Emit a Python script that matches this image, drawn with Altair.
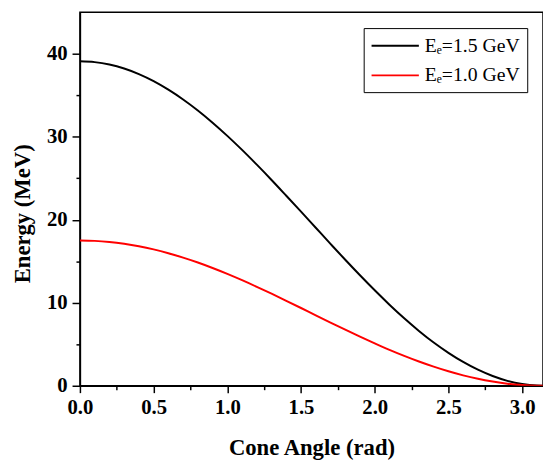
import altair as alt
import pandas as pd

# Cone angle (rad) sampled along the curves
theta = [0.0, 0.1, 0.2, 0.3, 0.4, 0.5, 0.6, 0.7, 0.8, 0.9, 1.0, 1.1, 1.2, 1.3, 1.4, 1.5,
         1.6, 1.7, 1.8, 1.9, 2.0, 2.1, 2.2, 2.3, 2.4, 2.5, 2.6, 2.7, 2.8, 2.9, 3.0, 3.1, 3.14]

# Energy (MeV) for Ee = 1.5 GeV
energy_15 = [39.10, 39.00, 38.71, 38.23, 37.56, 36.71, 35.68, 34.50, 33.17, 31.70, 30.11,
             28.42, 26.64, 24.80, 22.90, 20.98, 19.04, 17.10, 15.18, 13.31, 11.50, 9.77,
             8.13, 6.61, 5.21, 3.97, 2.87, 1.93, 1.17, 0.59, 0.21, 0.02, 0.0]

# Energy (MeV) for Ee = 1.0 GeV
energy_10 = [17.50, 17.46, 17.33, 17.11, 16.81, 16.43, 15.97, 15.44, 14.85, 14.19, 13.48,
             12.72, 11.92, 11.09, 10.24, 9.37, 8.49, 7.62, 6.76, 5.92, 5.11, 4.33, 3.60,
             2.92, 2.30, 1.74, 1.25, 0.84, 0.51, 0.25, 0.09, 0.01, 0.0]

series_names = ["E\u2091=1.5 GeV", "E\u2091=1.0 GeV"]
series_colors = ["#000000", "#ff0000"]

x_ticks = [0.0, 0.25, 0.5, 0.75, 1.0, 1.25, 1.5, 1.75, 2.0, 2.25, 2.5, 2.75, 3.0]
y_ticks = [0, 5, 10, 15, 20, 25, 30, 35, 40]

rows = []
for t, e in zip(theta, energy_15):
    rows.append({"theta": t, "energy": e, "series": series_names[0]})
for t, e in zip(theta, energy_10):
    rows.append({"theta": t, "energy": e, "series": series_names[1]})
df = pd.DataFrame(rows)

SERIF = "Liberation Serif"

chart = alt.Chart(df).mark_line(strokeWidth=2, clip=True, interpolate="monotone").encode(
    x=alt.X(
        "theta:Q",
        scale=alt.Scale(domain=[0, 3.14159], nice=False, zero=False),
        axis=alt.Axis(
            title="Cone Angle (rad)",
            values=x_ticks,
            labelExpr="datum.value % 0.5 === 0 ? format(datum.value, '.1f') : ''",
            tickSize={"condition": {"test": "datum.value % 0.5 === 0", "value": 7}, "value": 4},
            titleY=70,
            titleBaseline="alphabetic",
            labelPadding=4,
        ),
    ),
    y=alt.Y(
        "energy:Q",
        scale=alt.Scale(domain=[0, 45], nice=False),
        axis=alt.Axis(
            title="Energy (MeV)",
            values=y_ticks,
            labelExpr="datum.value % 10 === 0 ? datum.label : ''",
            tickSize={"condition": {"test": "datum.value % 10 === 0", "value": 8}, "value": 4},
            titleX=-51,
            titleY=204,
            titleBaseline="alphabetic",
            labelPadding=5,
        ),
    ),
    color=alt.Color(
        "series:N",
        scale=alt.Scale(domain=series_names, range=series_colors),
        sort=series_names,
        legend=alt.Legend(
            title=None,
            orient="none",
            legendX=288,
            legendY=16,
            symbolType="M-1,0H3.8",
            symbolSize=400,
            symbolStrokeWidth=2,
            labelFont=SERIF,
            labelFontSize=20,
            labelFontWeight="normal",
            labelColor="#000000",
            labelOffset=33,
            labelLimit=300,
            strokeColor="#000000",
            fillColor="#ffffff",
            padding=7,
            rowPadding=9,
        ),
    ),
).properties(
    width=470,
    height=379,
    autosize=alt.AutoSizeParams(type="none"),
    padding={"left": 73, "top": 1, "right": 0, "bottom": 74},
).configure_view(
    stroke="#000000",
    strokeWidth=1.5,
).configure_axis(
    grid=False,
    domainColor="#000000",
    domainWidth=1.5,
    tickColor="#000000",
    tickWidth=1.5,
    labelFont=SERIF,
    labelFontSize=21,
    labelFontWeight="bold",
    labelColor="#000000",
    titleFont=SERIF,
    titleFontSize=23,
    titleFontWeight="bold",
    titleColor="#000000",
    labelFlush=False,
)

chart.save("out.html", embed_options={"renderer": "svg", "actions": False})
